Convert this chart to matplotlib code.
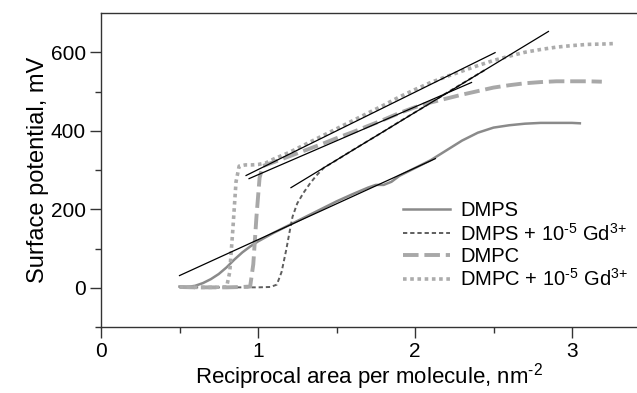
import matplotlib
matplotlib.use('Agg')
import matplotlib.pyplot as plt

plt.rcParams['font.family'] = ['Liberation Sans', 'DejaVu Sans']
plt.rcParams['mathtext.fontset'] = 'custom'
plt.rcParams['mathtext.rm'] = 'Liberation Sans'
plt.rcParams['mathtext.it'] = 'Liberation Sans:italic'

# curves
dmps_x = [0.50, 0.55, 0.60, 0.65, 0.70, 0.75, 0.80, 0.85, 0.90, 0.95, 1.00, 1.10, 1.20, 1.30,
          1.40, 1.50, 1.60, 1.70, 1.75, 1.80, 1.85, 1.90, 2.00, 2.10, 2.20, 2.30, 2.40, 2.50,
          2.60, 2.70, 2.80, 2.90, 3.00, 3.05]
dmps_y = [3, 2, 5, 12, 22, 35, 52, 72, 90, 105, 118, 140, 160, 180,
          200, 220, 238, 255, 262, 262, 270, 285, 305, 325, 350, 375, 395, 408,
          414, 418, 420, 420, 420, 419]

dmps_gd_x = [0.50, 0.60, 0.70, 0.80, 0.90, 1.00, 1.08, 1.12, 1.15, 1.18, 1.20, 1.22, 1.25,
             1.29, 1.33, 1.37, 1.42, 1.50, 1.60, 1.70, 1.80, 1.90, 2.00, 2.10, 2.20, 2.30,
             2.40, 2.45]
dmps_gd_y = [2, 1, 1, 1, 1, 1, 2, 8, 40, 97, 140, 181, 215,
             242, 265, 285, 306, 325, 350, 374, 398, 423, 447, 471, 496, 520,
             544, 556]

dmpc_x = [0.50, 0.60, 0.70, 0.80, 0.90, 0.95, 0.97, 0.99, 1.01, 1.03, 1.10, 1.20, 1.30, 1.40,
          1.50, 1.60, 1.70, 1.80, 1.90, 2.00, 2.10, 2.20, 2.30, 2.40, 2.50, 2.60, 2.70, 2.80,
          2.90, 3.00, 3.10, 3.19]
dmpc_y = [2, 1, 1, 1, 2, 3, 60, 180, 280, 310, 320, 335, 350, 365,
          381, 396, 412, 428, 445, 460, 472, 482, 492, 501, 510, 516, 521, 524,
          526, 526, 526, 525]

dmpc_gd_x = [0.50, 0.60, 0.70, 0.80, 0.82, 0.84, 0.86, 0.88, 0.92, 0.96, 1.00, 1.05, 1.10,
             1.20, 1.30, 1.40, 1.50, 1.60, 1.70, 1.80, 1.90, 2.00, 2.10, 2.20, 2.30, 2.40,
             2.50, 2.60, 2.70, 2.80, 2.90, 3.00, 3.10, 3.20, 3.26]
dmpc_gd_y = [2, 1, 1, 2, 40, 150, 270, 310, 313, 313, 314, 318, 328,
             345, 365, 385, 405, 425, 445, 465, 486, 505, 523, 538, 552, 566,
             579, 590, 600, 607, 613, 617, 620, 621, 622]

# straight black fit lines (start, end)
fits_x = [[0.50, 2.13], [1.21, 2.85], [0.943, 2.36], [0.924, 2.51]]
fits_y = [[31, 329], [255, 653], [278, 523], [286, 599]]

labels = ['DMPS', r'DMPS + 10$^{\text{-5}}$ Gd$^{\text{3+}}$', 'DMPC',
          r'DMPC + 10$^{\text{-5}}$ Gd$^{\text{3+}}$']

fig = plt.figure(figsize=(6.37, 3.93), dpi=100)
ax = fig.add_axes([101/637, 1 - 327/393, 1 - 101/637, (327 - 13)/393])

ax.plot(dmps_x, dmps_y, color='#8a8a8a', lw=1.8, label=labels[0])
ax.plot(dmps_gd_x, dmps_gd_y, color='#5e5e5e', lw=1.4, dashes=(2.2, 1.5), label=labels[1])
ax.plot(dmpc_x, dmpc_y, color='#a8a8a8', lw=2.8, dashes=(4, 1.5), label=labels[2])
ax.plot(dmpc_gd_x, dmpc_gd_y, color='#acacac', lw=2.6, dashes=(1, 1), label=labels[3])
for fx, fy in zip(fits_x, fits_y):
    ax.plot(fx, fy, color='black', lw=0.9)

ax.set_xlim(0, 3.414)
ax.set_ylim(-100, 700)
ax.set_xticks([0, 1, 2, 3])
ax.set_xticks([0.5, 1.5, 2.5], minor=True)
ax.set_yticks([0, 200, 400, 600])
ax.set_yticks([-100, 100, 300, 500], minor=True)
ax.spines['right'].set_visible(False)
for s in ['left', 'top', 'bottom']:
    ax.spines[s].set_color('#333333')
    ax.spines[s].set_linewidth(1.0)
ax.tick_params(which='major', direction='out', length=8, width=1, color='#333333',
               labelsize=15, pad=3)
ax.tick_params(which='minor', direction='out', length=4, width=1, color='#333333')

ax.set_xlabel(r'Reciprocal area per molecule, nm$^{\text{-2}}$', fontsize=16, labelpad=0)
ax.set_ylabel('Surface potential, mV', fontsize=17, labelpad=1)

ax.legend(loc='upper left', bbox_to_anchor=(403/637, 1 - 201/393), bbox_transform=fig.transFigure,
          frameon=False, fontsize=14.5, borderpad=0, borderaxespad=0, handlelength=2.35,
          handletextpad=0.5, labelspacing=0.12)

fig.savefig('out.png', dpi=100)
